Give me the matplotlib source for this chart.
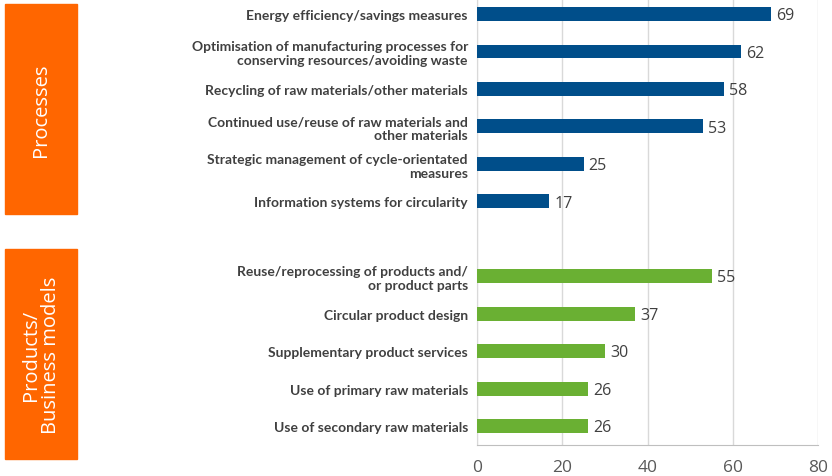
import matplotlib.pyplot as plt
from matplotlib.patches import Rectangle

plt.rcParams['font.family'] = ['Open Sans', 'DejaVu Sans']

# processes group
proc_labels = [
    "Energy efficiency/savings measures",
    "Optimisation of manufacturing processes for\nconserving resources/avoiding waste",
    "Recycling of raw materials/other materials",
    "Continued use/reuse of raw materials and\nother materials",
    "Strategic management of cycle-orientated\nmeasures",
    "Information systems for circularity",
]
proc_values = [69, 62, 58, 53, 25, 17]

# products / business models group
prod_labels = [
    "Reuse/reprocessing of products and/\nor product parts",
    "Circular product design",
    "Supplementary product services",
    "Use of primary raw materials",
    "Use of secondary raw materials",
]
prod_values = [55, 37, 30, 26, 26]

blue = "#004E8A"
green = "#6AB033"
orange = "#FF6600"

fig = plt.figure(figsize=(8.32, 4.77), dpi=100)
ax = fig.add_axes([0.5733, 0.065, 0.41, 0.935])

proc_pos = list(range(len(proc_values)))
prod_pos = [len(proc_values) + 1 + i for i in range(len(prod_values))]

ax.barh(proc_pos, proc_values, height=0.37, color=blue, zorder=3)
ax.barh(prod_pos, prod_values, height=0.37, color=green, zorder=3)

for p, v in zip(proc_pos + prod_pos, proc_values + prod_values):
    ax.text(v + 1.2, p + 0.03, str(v), va='center', ha='left', fontsize=11.5, color='#404040')

ax.set_yticks(proc_pos + prod_pos)
ax.set_yticklabels(proc_labels + prod_labels, fontsize=10, fontweight='bold', color='#404040',
                   family=['Lato', 'DejaVu Sans'])
ax.tick_params(axis='y', length=0, pad=6.5)
ax.tick_params(axis='x', length=0, labelsize=12.5, labelcolor='#595959', pad=10)
ax.set_xlim(0, 80)
ax.set_xticks([0, 20, 40, 60, 80])
ax.set_ylim(11.5, -0.4)
ax.grid(axis='x', color='#D9D9D9', linewidth=1, zorder=0)
for s in ['top', 'right']:
    ax.spines[s].set_visible(False)
ax.spines['left'].set_color('#D9D9D9')
ax.spines['bottom'].set_color('#BFBFBF')

# orange group boxes on the left
for y0, y1, txt in [(5, 215, "Processes"), (250, 460, "Products/\nBusiness models")]:
    fig.patches.append(Rectangle((5 / 832, 1 - y1 / 477), 72 / 832, (y1 - y0) / 477,
                                 transform=fig.transFigure, color=orange))
    fig.text(41 / 832, 1 - (y0 + y1) / 2 / 477, txt, rotation=90, ha='center', va='center',
             color='white', fontsize=14.5, linespacing=1.05)

plt.savefig('out.png')
